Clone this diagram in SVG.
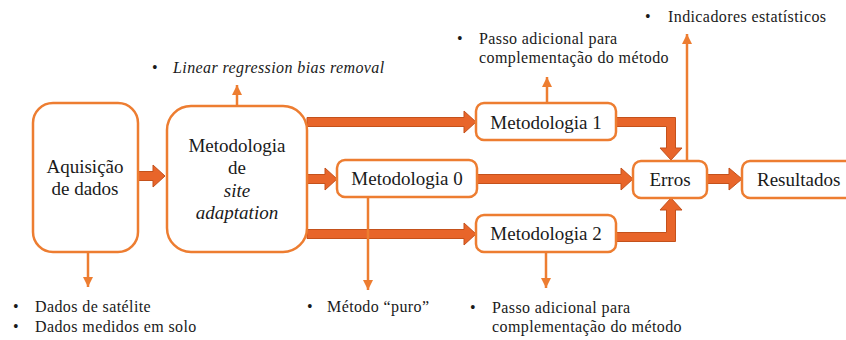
<svg xmlns="http://www.w3.org/2000/svg" width="846" height="340" viewBox="0 0 846 340">
<style>
.box{fill:#fff;stroke:#ED7D31;stroke-width:2.5}
.t{font-family:"Liberation Serif",Tinos,"Times New Roman",serif;font-size:19px;fill:#1a1a1a}
.b{font-family:"Liberation Serif",Tinos,"Times New Roman",serif;font-size:16px;letter-spacing:0.4px;fill:#1a1a1a}
.i{font-style:italic}
.thick{fill:#E8652A;stroke:#C4511B;stroke-width:1}
.thin{fill:none;stroke:#ED7D31;stroke-width:2.5}
</style>
<defs>
<marker id="ah" markerUnits="userSpaceOnUse" markerWidth="12" markerHeight="12" viewBox="0 0 12 12" refX="10" refY="6" orient="auto">
<path d="M0,1 L10,6 L0,11 Z" fill="#ED7D31"/>
</marker>
</defs>
<rect width="846" height="340" fill="#fff"/>
<g id="connectors">
<polygon class="thick" points="138,171.5 153,171.5 153,165 165,176 153,187 153,180.5 138,180.5"/>
<polygon class="thick" points="307,117.5 464,117.5 464,111 476,122 464,133 464,126.5 307,126.5"/>
<polygon class="thick" points="307,174.5 325,174.5 325,168 337,179 325,190 325,183.5 307,183.5"/>
<polygon class="thick" points="307,229.5 464,229.5 464,223 476,234 464,245 464,238.5 307,238.5"/>
<polygon class="thick" points="477,174.5 621,174.5 621,168 633,179 621,190 621,183.5 477,183.5"/>
<polygon class="thick" points="707,174.5 729,174.5 729,168 742,179 729,190 729,183.5 707,183.5"/>
<polygon class="thick" points="612,117.5 675.5,117.5 675.5,148 682,148 671,160 660,148 666.5,148 666.5,126.5 612,126.5"/>
<polygon class="thick" points="612,241.5 675.5,241.5 675.5,210 682,210 671,198 660,210 666.5,210 666.5,232.5 612,232.5"/>
<line class="thin" x1="687" y1="161" x2="687" y2="34" marker-end="url(#ah)"/>
<line class="thin" x1="547" y1="103" x2="547" y2="77" marker-end="url(#ah)"/>
<line class="thin" x1="237" y1="106" x2="237" y2="85" marker-end="url(#ah)"/>
<line class="thin" x1="88" y1="252" x2="88" y2="287" marker-end="url(#ah)"/>
<line class="thin" x1="368" y1="197" x2="368" y2="290" marker-end="url(#ah)"/>
<line class="thin" x1="546" y1="252" x2="546" y2="288" marker-end="url(#ah)"/>
</g>
<g id="aquisicao">
<rect class="box" x="33" y="103" width="105" height="149" rx="20"/>
<text class="t" x="85" y="173" text-anchor="middle">Aquisição</text>
<text class="t" x="85" y="195" text-anchor="middle">de dados</text>
</g>
<g id="site-adaptation">
<rect class="box" x="167" y="106" width="140" height="146" rx="24"/>
<text class="t" x="237" y="152" text-anchor="middle">Metodologia</text>
<text class="t" x="237" y="174" text-anchor="middle">de</text>
<text class="t i" x="237" y="197" text-anchor="middle">site</text>
<text class="t i" x="237" y="219" text-anchor="middle">adaptation</text>
</g>
<g id="metodologia1">
<rect class="box" x="476" y="103" width="140" height="37" rx="8"/>
<text class="t" x="546" y="129" text-anchor="middle">Metodologia 1</text>
</g>
<g id="metodologia0">
<rect class="box" x="337" y="160" width="140" height="37" rx="8"/>
<text class="t" x="407" y="185" text-anchor="middle">Metodologia 0</text>
</g>
<g id="metodologia2">
<rect class="box" x="476" y="215" width="140" height="37" rx="8"/>
<text class="t" x="546" y="240" text-anchor="middle">Metodologia 2</text>
</g>
<g id="erros">
<rect class="box" x="633" y="161" width="74" height="37" rx="8"/>
<text class="t" x="670" y="186" text-anchor="middle">Erros</text>
</g>
<g id="resultados">
<rect class="box" x="742" y="161" width="118" height="37" rx="8"/>
<text class="t" x="757" y="186">Resultados</text>
</g>
<g id="labels">
<text class="b" x="645" y="22">•</text>
<text class="b" x="668" y="22">Indicadores estatísticos</text>
<text class="b" x="457" y="44">•</text>
<text class="b" x="479" y="44">Passo adicional para</text>
<text class="b" x="479" y="63">complementação do método</text>
<text class="b" x="152" y="73">•</text>
<text class="b i" x="173" y="73">Linear regression bias removal</text>
<text class="b" x="13" y="312">•</text>
<text class="b" x="35" y="312">Dados de satélite</text>
<text class="b" x="13" y="332">•</text>
<text class="b" x="35" y="332">Dados medidos em solo</text>
<text class="b" x="307" y="312">•</text>
<text class="b" x="327" y="312">Método “puro”</text>
<text class="b" x="470" y="313">•</text>
<text class="b" x="492" y="313">Passo adicional para</text>
<text class="b" x="492" y="332">complementação do método</text>
</g>
</svg>
